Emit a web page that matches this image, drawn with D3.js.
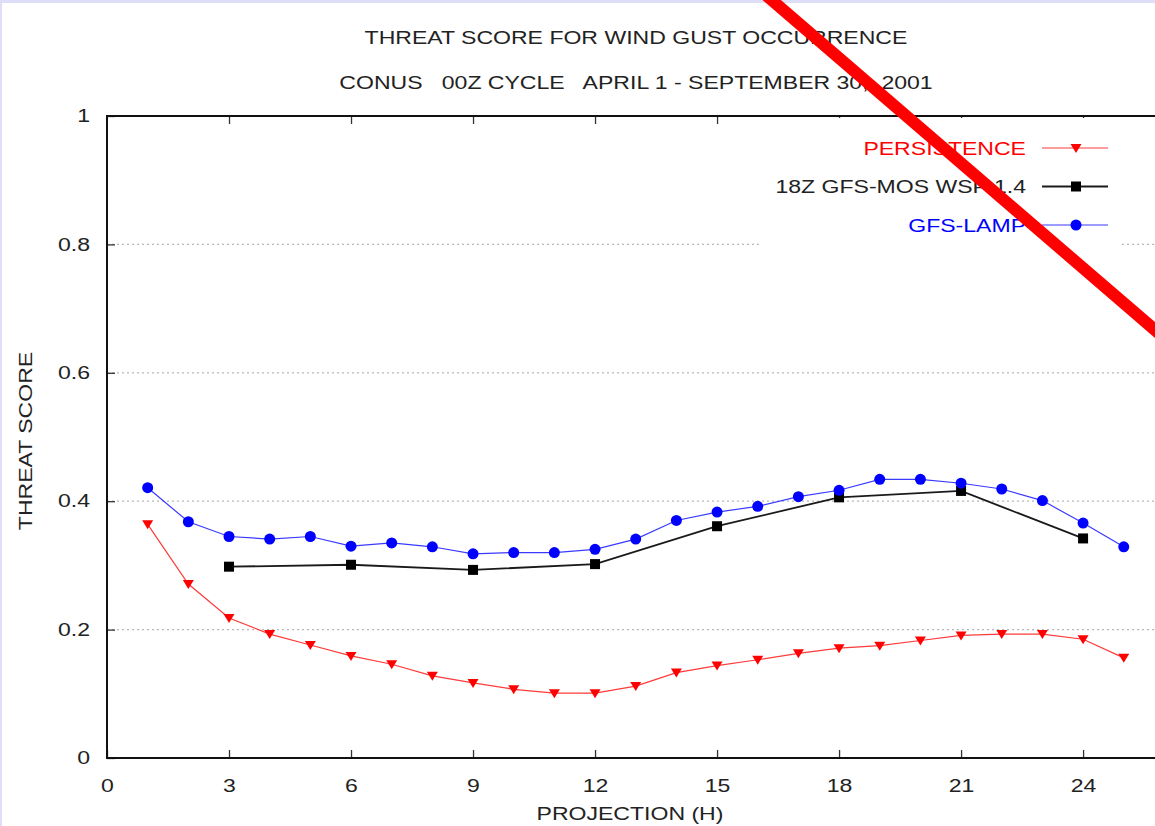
<!DOCTYPE html>
<html>
<head>
<meta charset="utf-8">
<script src="https://cdn.jsdelivr.net/npm/d3@7"></script>
<style>
  body { margin: 0; background: #fff; }
  svg { display: block; }
  text { font-family: "Liberation Sans", Arial, sans-serif; font-size: 18px; fill: #222; }
</style>
</head>
<body>
<svg id="chart" width="1155" height="826"></svg>
<script>
// values
const hours = [1,2,3,4,5,6,7,8,9,10,11,12,13,14,15,16,17,18,19,20,21,22,23,24,25];
const persistence = [0.364,0.271,0.218,0.193,0.176,0.159,0.146,0.128,0.117,0.107,0.101,0.101,0.112,
                     0.133,0.144,0.153,0.163,0.171,0.175,0.183,0.191,0.193,0.193,0.185,0.156];
const lamp = [0.421,0.368,0.345,0.341,0.345,0.330,0.335,0.329,0.318,0.320,0.320,0.325,0.341,
              0.370,0.383,0.392,0.407,0.417,0.434,0.434,0.428,0.419,0.401,0.366,0.329];
const mosHours = [3,6,9,12,15,18,21,24];
const mos = [0.298,0.301,0.293,0.302,0.361,0.406,0.416,0.342];

const xTicks = [0,3,6,9,12,15,18,21,24];
const yTicks = [0,0.2,0.4,0.6,0.8,1];

const title1 = "THREAT SCORE FOR WIND GUST OCCURRENCE";
const title2 = "CONUS   00Z CYCLE   APRIL 1 - SEPTEMBER 30,  2001";
const legendLabels = ["PERSISTENCE", "18Z GFS-MOS WSP 1.4", "GFS-LAMP"];

// the red strike drawn across the upper right, in data units
const slashX = [16.20, 26.14];
const slashY = [1.1885, 0.6464];

const STRETCH = 1.28;

function stretch(sel) {
  sel.each(function() {
    const w = this.getComputedTextLength();
    this.setAttribute("textLength", w * STRETCH);
    this.setAttribute("lengthAdjust", "spacingAndGlyphs");
  });
}

const svg = d3.select("#chart");

// faint lavender edge of the original screenshot
svg.append("rect").attr("x", 0).attr("y", 0).attr("width", 1155).attr("height", 3).attr("fill", "#dedef8");
svg.append("rect").attr("x", 0).attr("y", 0).attr("width", 2).attr("height", 826).attr("fill", "#dedef8");

const x = d3.scaleLinear().domain([0, 26]).range([107, 107 + 26 * 40.67]);
const y = d3.scaleLinear().domain([0, 1]).range([758, 116]);

// grid
svg.append("g")
  .selectAll("line")
  .data(yTicks.filter(d => d > 0 && d < 1))
  .enter()
  .append("line")
  .attr("x1", x(0)).attr("x2", x(26))
  .attr("y1", d => y(d)).attr("y2", d => y(d))
  .attr("stroke", "#b8b8b8")
  .attr("stroke-width", 1.2)
  .attr("stroke-dasharray", "2,3");

// axes
const gx = svg.append("g")
  .attr("transform", `translate(0,${y(0)})`)
  .call(d3.axisBottom(x).tickValues(xTicks).tickFormat(d3.format("d"))
    .tickSizeInner(-8).tickSizeOuter(0).tickPadding(21));
const gxTop = svg.append("g")
  .attr("transform", `translate(0,${y(1)})`)
  .call(d3.axisTop(x).tickValues(xTicks.filter(d => d > 0)).tickFormat("")
    .tickSizeInner(-8).tickSizeOuter(0));
const gy = svg.append("g")
  .attr("transform", `translate(${x(0)},0)`)
  .call(d3.axisLeft(y).tickValues(yTicks).tickFormat(d => d === 0 || d === 1 ? d3.format("d")(d) : d3.format(".1f")(d))
    .tickSizeInner(-8).tickSizeOuter(0).tickPadding(17));

[gx, gxTop, gy].forEach(g => {
  g.select(".domain").remove();
  g.selectAll(".tick line").attr("stroke", "#333").attr("stroke-width", 1.3);
  g.selectAll(".tick text").style("font-size", "18px").attr("fill", "#222").call(stretch);
});

// frame
svg.append("rect")
  .attr("x", x(0)).attr("y", y(1))
  .attr("width", x(26) - x(0)).attr("height", y(0) - y(1))
  .attr("fill", "none")
  .attr("stroke", "#111")
  .attr("stroke-width", 2);

// titles
svg.append("text").attr("x", 636).attr("y", 44).attr("text-anchor", "middle")
  .text(title1).call(stretch);
svg.append("text").attr("x", 636).attr("y", 89).attr("text-anchor", "middle")
  .attr("xml:space", "preserve").style("white-space", "pre")
  .text(title2).call(stretch);
svg.append("text").attr("x", 630).attr("y", 820).attr("text-anchor", "middle")
  .text("PROJECTION (H)").call(stretch);
svg.append("text")
  .attr("transform", "translate(32,441) rotate(-90)")
  .attr("text-anchor", "middle")
  .text("THREAT SCORE").call(stretch);

// series
const series = [
  { name: legendLabels[0], xs: hours, ys: persistence, color: "#ff0000", lineColor: "#ff3a3a", width: 1.2, symbol: "triangle" },
  { name: legendLabels[1], xs: mosHours, ys: mos, color: "#000000", lineColor: "#1a1a1a", width: 1.8, symbol: "square" },
  { name: legendLabels[2], xs: hours, ys: lamp, color: "#0000ff", lineColor: "#3a3aff", width: 1.2, symbol: "circle" }
];

function drawMarker(g, s, cx, cy) {
  if (s.symbol === "circle") {
    g.append("circle").attr("cx", cx).attr("cy", cy).attr("r", 5.5).attr("fill", s.color);
  } else if (s.symbol === "square") {
    g.append("rect").attr("x", cx - 5).attr("y", cy - 5).attr("width", 10).attr("height", 10).attr("fill", s.color);
  } else {
    g.append("path")
      .attr("d", `M${cx - 5.5},${cy - 4} L${cx + 5.5},${cy - 4} L${cx},${cy + 5} Z`)
      .attr("fill", s.color);
  }
}

const line = d3.line().x(d => x(d[0])).y(d => y(d[1]));

series.forEach(s => {
  const pts = s.xs.map((h, i) => [h, s.ys[i]]);
  const g = svg.append("g");
  g.append("path")
    .attr("d", line(pts))
    .attr("fill", "none")
    .attr("stroke", s.lineColor)
    .attr("stroke-width", s.width);
  pts.forEach(p => drawMarker(g, s, x(p[0]), y(p[1])));
});

// key, with an opaque box behind it
const key = svg.append("g");
key.append("rect")
  .attr("x", 761).attr("y", 118).attr("width", 360).attr("height", 132)
  .attr("fill", "#fff");
series.forEach((s, i) => {
  const ky = 148 + i * 38.5;
  key.append("line")
    .attr("x1", 1042).attr("x2", 1108).attr("y1", ky).attr("y2", ky)
    .attr("stroke", s.lineColor).attr("stroke-width", s.width);
  drawMarker(key, s, 1076, ky);
  key.append("text")
    .attr("x", 1026).attr("y", ky + 6.5)
    .attr("text-anchor", "end")
    .style("fill", s.color === "#000000" ? "#222" : s.color)
    .text(s.name).call(stretch);
});

// red strike-through over the corner
svg.append("line")
  .attr("x1", x(slashX[0])).attr("y1", y(slashY[0]))
  .attr("x2", x(slashX[1])).attr("y2", y(slashY[1]))
  .attr("stroke", "#ff0000")
  .attr("stroke-width", 12);
</script>
</body>
</html>
